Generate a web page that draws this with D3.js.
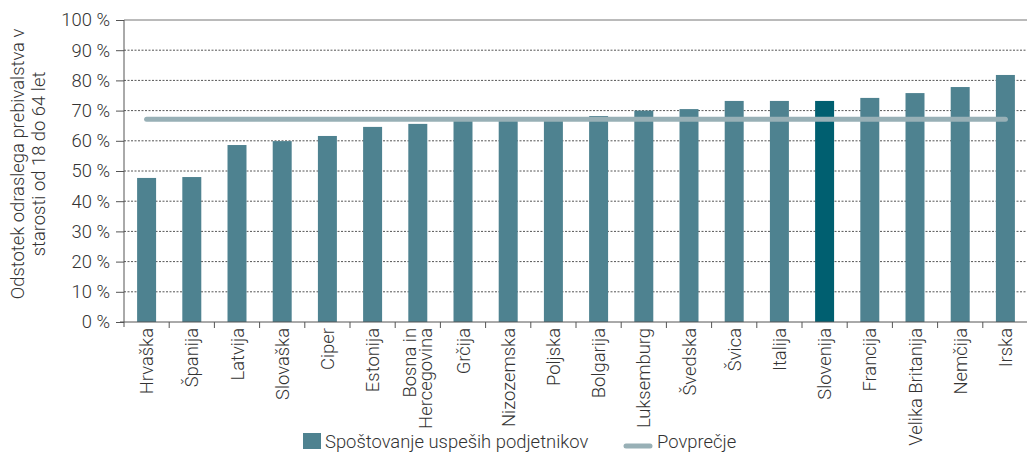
<!DOCTYPE html>
<html>
<head>
<meta charset="utf-8">
<script src="https://cdn.jsdelivr.net/npm/d3@7"></script>
<style>
  body { margin: 0; background: #fff; }
  text { font-family: Roboto, "Open Sans", sans-serif; font-weight: 300; fill: #333; }
</style>
</head>
<body>
<div id="container"></div>
<script>
/* DATA */
const countries = ["Hrvaška", "Španija", "Latvija", "Slovaška", "Ciper", "Estonija",
  "Bosna in Hercegovina", "Grčija", "Nizozemska", "Poljska", "Bolgarija", "Luksemburg",
  "Švedska", "Švica", "Italija", "Slovenija", "Francija", "Velika Britanija", "Nemčija", "Irska"];
const values = [47.7, 48.0, 58.6, 59.9, 61.6, 64.6, 65.6, 66.9, 67.0, 67.2, 68.2, 70.0,
  70.5, 73.2, 73.2, 73.2, 74.2, 75.8, 77.8, 81.8];
const average = 67.1;
const yTicks = [0, 10, 20, 30, 40, 50, 60, 70, 80, 90, 100];
const seriesName = "Spoštovanje uspeših podjetnikov";
const avgName = "Povprečje";
const yTitle = ["Odstotek odraslega prebivalstva v", "starosti od 18 do 64 let"];

/* CONSTANTS */
const width = 1027, height = 454,
  margin = {top: 20, left: 124, bottom: 132, right: -1};
const barColor = "#4e8290", highlight = "#005f70", avgColor = "#98b0b6";
const fs = "18.4px";

const data = countries.map((c, i) => ({country: c, value: values[i]}));

const svg = d3.select("#container").append("svg")
  .attr("width", width).attr("height", height);

// SCALES
const xScale = d3.scaleBand()
  .domain(countries)
  .range([margin.left, width - margin.right])
  .paddingInner(0.58).paddingOuter(0.29);

const yScale = d3.scaleLinear()
  .domain([0, 100])
  .range([height - margin.bottom, margin.top]);

// GRID
svg.append("g").selectAll("line")
  .data(yTicks.filter(d => d > 0 && d < 100))
  .join("line")
  .attr("x1", margin.left).attr("x2", width)
  .attr("y1", d => yScale(d)).attr("y2", d => yScale(d))
  .attr("stroke", "#555").attr("stroke-width", 1)
  .attr("stroke-dasharray", "2,1.5");

svg.append("line")
  .attr("x1", margin.left).attr("x2", width)
  .attr("y1", yScale(100)).attr("y2", yScale(100))
  .attr("stroke", "#777");

// BARS
svg.append("g").selectAll("rect")
  .data(data)
  .join("rect")
  .attr("x", d => xScale(d.country))
  .attr("width", xScale.bandwidth())
  .attr("y", d => yScale(d.value))
  .attr("height", d => yScale(0) - yScale(d.value))
  .attr("fill", d => d.country === "Slovenija" ? highlight : barColor);

// AVERAGE LINE
const half = xScale.bandwidth() / 2;
svg.append("line")
  .attr("x1", xScale(countries[0]) + half)
  .attr("x2", xScale(countries[countries.length - 1]) + half)
  .attr("y1", yScale(average)).attr("y2", yScale(average))
  .attr("stroke", avgColor).attr("stroke-width", 5)
  .attr("stroke-linecap", "round");

// Y AXIS
const yAxis = svg.append("g")
  .attr("transform", `translate(${margin.left},0)`)
  .call(d3.axisLeft(yScale).tickValues(yTicks).tickSize(8).tickPadding(6)
    .tickFormat(d => d + " %"));
yAxis.select(".domain").attr("stroke", "#555").attr("d", `M0,${yScale(100)}V${yScale(0) + 5}`);
yAxis.selectAll(".tick line").attr("stroke", "#555");
yAxis.selectAll("text").style("font-size", fs).attr("fill", "#333")
  .style("font-family", "Roboto").style("font-weight", 300);

// X AXIS
const xAxis = svg.append("g")
  .attr("transform", `translate(0,${yScale(0)})`);
xAxis.append("line")
  .attr("x1", margin.left - 4).attr("x2", width)
  .attr("stroke", "#555");
xAxis.selectAll(".sep")
  .data(countries.slice(1))
  .join("line")
  .attr("class", "sep")
  .attr("x1", d => xScale(d) - xScale.step() * xScale.paddingInner() / 2)
  .attr("x2", d => xScale(d) - xScale.step() * xScale.paddingInner() / 2)
  .attr("y1", 0).attr("y2", 6)
  .attr("stroke", "#555");

const labels = xAxis.selectAll(".lab")
  .data(countries)
  .join("text")
  .attr("class", "lab")
  .attr("text-anchor", "end")
  .style("font-size", fs)
  .attr("transform", d => `translate(${xScale(d) + half},6) rotate(-90)`);
labels.each(function(d) {
  const t = d3.select(this);
  const lines = d === "Bosna in Hercegovina" ? ["Bosna in", "Hercegovina"] : [d];
  const off = (lines.length - 1) * 16 / 2;
  lines.forEach((l, i) => {
    t.append("tspan").attr("x", 0)
      .attr("y", 6.5 - off + i * 16)
      .text(l);
  });
});

// Y TITLE
svg.append("text")
  .attr("transform", `translate(24,164) rotate(-90)`)
  .attr("text-anchor", "middle")
  .style("font-size", fs)
  .selectAll("tspan")
  .data(yTitle)
  .join("tspan")
  .attr("x", 0)
  .attr("dy", (d, i) => i === 0 ? 0 : 21)
  .text(d => d);

// LEGEND
const legend = svg.append("g");
legend.append("rect")
  .attr("x", 303).attr("y", 433).attr("width", 18).attr("height", 16)
  .attr("fill", barColor);
legend.append("text")
  .attr("x", 325).attr("y", 448)
  .style("font-size", fs)
  .text(seriesName);
legend.append("line")
  .attr("x1", 626).attr("x2", 650).attr("y1", 446).attr("y2", 446)
  .attr("stroke", avgColor).attr("stroke-width", 5).attr("stroke-linecap", "round");
legend.append("text")
  .attr("x", 657).attr("y", 448)
  .style("font-size", fs)
  .text(avgName);
</script>
</body>
</html>
